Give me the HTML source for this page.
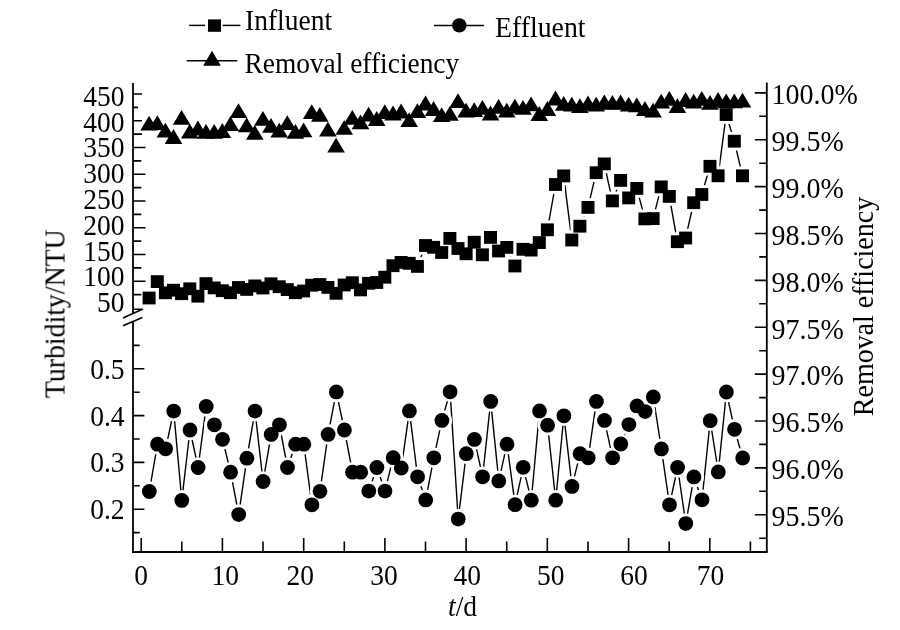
<!DOCTYPE html><html><head><meta charset="utf-8"><style>html,body{margin:0;padding:0;background:#fff;width:900px;height:630px;overflow:hidden}svg{display:block}</style></head><body>
<svg width="900" height="630" viewBox="0 0 900 630" style="font-family:&quot;Liberation Serif&quot;,serif" fill="#000">
<rect width="900" height="630" fill="#fff"/>
<g fill="none" stroke="#000" stroke-width="1.4">
<polyline points="149.1,298 157.3,281.6 165.4,292.8 173.5,290.2 181.6,293.7 189.8,288.8 197.9,296.2 206,283.6 214.2,287.9 222.3,290.7 230.4,292.7 238.5,287.5 246.7,289.4 254.8,285.9 262.9,288 271,283.8 279.2,286.7 287.3,289.6 295.4,292.7 303.6,291 311.7,285.2 319.8,284.5 327.9,287.4 336.1,293.3 344.2,285 352.3,282.7 360.5,289.9 368.6,283.3 376.7,282.5 384.8,277.2 393,265.7 401.1,262.4 409.2,263.3 417.4,266.4 425.5,245.5 433.6,247.3 441.7,252.5 449.9,238.4 458,248.5 466.1,253.8 474.2,242.2 482.4,254.8 490.5,237.4 498.6,251 506.8,247.4 514.9,266 523,249.3 531.1,250.1 539.3,242.6 547.4,229.8 555.5,184.5 563.7,175.9 571.8,240 579.9,226.2 588,207.4 596.2,172.7 604.3,163.9 612.4,200.9 620.6,180.4 628.7,197.9 636.8,188.4 644.9,218.9 653.1,218.6 661.2,186.9 669.3,196.4 677.4,241.7 685.6,238 693.7,202.7 701.8,194.5 710,166.3 718.1,175.8 726.2,114.6 734.3,141.2 742.5,175.8"/>
<polyline points="149.3,491.5 157.5,444.2 165.6,448.8 173.7,411.1 181.8,500.4 190,430 198.1,467.5 206.2,406.4 214.4,424.8 222.5,439.3 230.6,472.2 238.7,514.6 246.9,458.2 255,411.1 263.1,481.5 271.2,434.4 279.4,424.8 287.5,467.5 295.6,444.2 303.8,444.2 311.9,504.8 320,491.3 328.1,434.4 336.3,391.9 344.4,430 352.5,472.2 360.7,472.2 368.8,491.1 376.9,467.5 385,491.1 393.2,457.7 401.3,468 409.4,410.9 417.6,476.8 425.7,499.9 433.8,457.8 441.9,420.4 450.1,391.8 458.2,519.1 466.3,453.7 474.4,439.4 482.6,476.8 490.7,401.4 498.8,480.9 507,444.2 515.1,504.7 523.2,467.3 531.3,500.2 539.5,410.9 547.6,425.2 555.7,500.2 563.9,415.8 572,486.4 580.1,453.7 588.2,457.8 596.4,401.4 604.5,420.4 612.6,457.8 620.8,444 628.9,424.6 637,405.9 645.1,411.6 653.3,396.9 661.4,448.9 669.5,504.8 677.6,467.5 685.8,523.6 693.9,476.9 702,499.8 710.2,420.7 718.3,471.9 726.4,392 734.5,429.3 742.7,458"/>
</g>
<g fill="#fff" stroke="#fff" stroke-width="5.8">
<rect x="142.6" y="291.6" width="13" height="12.8"/>
<rect x="150.8" y="275.2" width="13" height="12.8"/>
<rect x="158.9" y="286.4" width="13" height="12.8"/>
<rect x="167" y="283.8" width="13" height="12.8"/>
<rect x="175.1" y="287.3" width="13" height="12.8"/>
<rect x="183.3" y="282.4" width="13" height="12.8"/>
<rect x="191.4" y="289.8" width="13" height="12.8"/>
<rect x="199.5" y="277.2" width="13" height="12.8"/>
<rect x="207.7" y="281.5" width="13" height="12.8"/>
<rect x="215.8" y="284.3" width="13" height="12.8"/>
<rect x="223.9" y="286.3" width="13" height="12.8"/>
<rect x="232" y="281.1" width="13" height="12.8"/>
<rect x="240.2" y="283" width="13" height="12.8"/>
<rect x="248.3" y="279.5" width="13" height="12.8"/>
<rect x="256.4" y="281.6" width="13" height="12.8"/>
<rect x="264.5" y="277.4" width="13" height="12.8"/>
<rect x="272.7" y="280.3" width="13" height="12.8"/>
<rect x="280.8" y="283.2" width="13" height="12.8"/>
<rect x="288.9" y="286.3" width="13" height="12.8"/>
<rect x="297.1" y="284.6" width="13" height="12.8"/>
<rect x="305.2" y="278.8" width="13" height="12.8"/>
<rect x="313.3" y="278.1" width="13" height="12.8"/>
<rect x="321.4" y="281" width="13" height="12.8"/>
<rect x="329.6" y="286.9" width="13" height="12.8"/>
<rect x="337.7" y="278.6" width="13" height="12.8"/>
<rect x="345.8" y="276.3" width="13" height="12.8"/>
<rect x="354" y="283.5" width="13" height="12.8"/>
<rect x="362.1" y="276.9" width="13" height="12.8"/>
<rect x="370.2" y="276.1" width="13" height="12.8"/>
<rect x="378.3" y="270.8" width="13" height="12.8"/>
<rect x="386.5" y="259.3" width="13" height="12.8"/>
<rect x="394.6" y="256" width="13" height="12.8"/>
<rect x="402.7" y="256.9" width="13" height="12.8"/>
<rect x="410.9" y="260" width="13" height="12.8"/>
<rect x="419" y="239.1" width="13" height="12.8"/>
<rect x="427.1" y="240.9" width="13" height="12.8"/>
<rect x="435.2" y="246.1" width="13" height="12.8"/>
<rect x="443.4" y="232" width="13" height="12.8"/>
<rect x="451.5" y="242.1" width="13" height="12.8"/>
<rect x="459.6" y="247.4" width="13" height="12.8"/>
<rect x="467.7" y="235.8" width="13" height="12.8"/>
<rect x="475.9" y="248.4" width="13" height="12.8"/>
<rect x="484" y="231" width="13" height="12.8"/>
<rect x="492.1" y="244.6" width="13" height="12.8"/>
<rect x="500.3" y="241" width="13" height="12.8"/>
<rect x="508.4" y="259.6" width="13" height="12.8"/>
<rect x="516.5" y="242.9" width="13" height="12.8"/>
<rect x="524.6" y="243.7" width="13" height="12.8"/>
<rect x="532.8" y="236.2" width="13" height="12.8"/>
<rect x="540.9" y="223.4" width="13" height="12.8"/>
<rect x="549" y="178.1" width="13" height="12.8"/>
<rect x="557.2" y="169.5" width="13" height="12.8"/>
<rect x="565.3" y="233.6" width="13" height="12.8"/>
<rect x="573.4" y="219.8" width="13" height="12.8"/>
<rect x="581.5" y="201" width="13" height="12.8"/>
<rect x="589.7" y="166.3" width="13" height="12.8"/>
<rect x="597.8" y="157.5" width="13" height="12.8"/>
<rect x="605.9" y="194.5" width="13" height="12.8"/>
<rect x="614.1" y="174" width="13" height="12.8"/>
<rect x="622.2" y="191.5" width="13" height="12.8"/>
<rect x="630.3" y="182" width="13" height="12.8"/>
<rect x="638.4" y="212.5" width="13" height="12.8"/>
<rect x="646.6" y="212.2" width="13" height="12.8"/>
<rect x="654.7" y="180.5" width="13" height="12.8"/>
<rect x="662.8" y="190" width="13" height="12.8"/>
<rect x="670.9" y="235.3" width="13" height="12.8"/>
<rect x="679.1" y="231.6" width="13" height="12.8"/>
<rect x="687.2" y="196.3" width="13" height="12.8"/>
<rect x="695.3" y="188.1" width="13" height="12.8"/>
<rect x="703.5" y="159.9" width="13" height="12.8"/>
<rect x="711.6" y="169.4" width="13" height="12.8"/>
<rect x="719.7" y="108.2" width="13" height="12.8"/>
<rect x="727.8" y="134.8" width="13" height="12.8"/>
<rect x="736" y="169.4" width="13" height="12.8"/>
<circle cx="149.3" cy="491.5" r="7.4"/>
<circle cx="157.5" cy="444.2" r="7.4"/>
<circle cx="165.6" cy="448.8" r="7.4"/>
<circle cx="173.7" cy="411.1" r="7.4"/>
<circle cx="181.8" cy="500.4" r="7.4"/>
<circle cx="190" cy="430" r="7.4"/>
<circle cx="198.1" cy="467.5" r="7.4"/>
<circle cx="206.2" cy="406.4" r="7.4"/>
<circle cx="214.4" cy="424.8" r="7.4"/>
<circle cx="222.5" cy="439.3" r="7.4"/>
<circle cx="230.6" cy="472.2" r="7.4"/>
<circle cx="238.7" cy="514.6" r="7.4"/>
<circle cx="246.9" cy="458.2" r="7.4"/>
<circle cx="255" cy="411.1" r="7.4"/>
<circle cx="263.1" cy="481.5" r="7.4"/>
<circle cx="271.2" cy="434.4" r="7.4"/>
<circle cx="279.4" cy="424.8" r="7.4"/>
<circle cx="287.5" cy="467.5" r="7.4"/>
<circle cx="295.6" cy="444.2" r="7.4"/>
<circle cx="303.8" cy="444.2" r="7.4"/>
<circle cx="311.9" cy="504.8" r="7.4"/>
<circle cx="320" cy="491.3" r="7.4"/>
<circle cx="328.1" cy="434.4" r="7.4"/>
<circle cx="336.3" cy="391.9" r="7.4"/>
<circle cx="344.4" cy="430" r="7.4"/>
<circle cx="352.5" cy="472.2" r="7.4"/>
<circle cx="360.7" cy="472.2" r="7.4"/>
<circle cx="368.8" cy="491.1" r="7.4"/>
<circle cx="376.9" cy="467.5" r="7.4"/>
<circle cx="385" cy="491.1" r="7.4"/>
<circle cx="393.2" cy="457.7" r="7.4"/>
<circle cx="401.3" cy="468" r="7.4"/>
<circle cx="409.4" cy="410.9" r="7.4"/>
<circle cx="417.6" cy="476.8" r="7.4"/>
<circle cx="425.7" cy="499.9" r="7.4"/>
<circle cx="433.8" cy="457.8" r="7.4"/>
<circle cx="441.9" cy="420.4" r="7.4"/>
<circle cx="450.1" cy="391.8" r="7.4"/>
<circle cx="458.2" cy="519.1" r="7.4"/>
<circle cx="466.3" cy="453.7" r="7.4"/>
<circle cx="474.4" cy="439.4" r="7.4"/>
<circle cx="482.6" cy="476.8" r="7.4"/>
<circle cx="490.7" cy="401.4" r="7.4"/>
<circle cx="498.8" cy="480.9" r="7.4"/>
<circle cx="507" cy="444.2" r="7.4"/>
<circle cx="515.1" cy="504.7" r="7.4"/>
<circle cx="523.2" cy="467.3" r="7.4"/>
<circle cx="531.3" cy="500.2" r="7.4"/>
<circle cx="539.5" cy="410.9" r="7.4"/>
<circle cx="547.6" cy="425.2" r="7.4"/>
<circle cx="555.7" cy="500.2" r="7.4"/>
<circle cx="563.9" cy="415.8" r="7.4"/>
<circle cx="572" cy="486.4" r="7.4"/>
<circle cx="580.1" cy="453.7" r="7.4"/>
<circle cx="588.2" cy="457.8" r="7.4"/>
<circle cx="596.4" cy="401.4" r="7.4"/>
<circle cx="604.5" cy="420.4" r="7.4"/>
<circle cx="612.6" cy="457.8" r="7.4"/>
<circle cx="620.8" cy="444" r="7.4"/>
<circle cx="628.9" cy="424.6" r="7.4"/>
<circle cx="637" cy="405.9" r="7.4"/>
<circle cx="645.1" cy="411.6" r="7.4"/>
<circle cx="653.3" cy="396.9" r="7.4"/>
<circle cx="661.4" cy="448.9" r="7.4"/>
<circle cx="669.5" cy="504.8" r="7.4"/>
<circle cx="677.6" cy="467.5" r="7.4"/>
<circle cx="685.8" cy="523.6" r="7.4"/>
<circle cx="693.9" cy="476.9" r="7.4"/>
<circle cx="702" cy="499.8" r="7.4"/>
<circle cx="710.2" cy="420.7" r="7.4"/>
<circle cx="718.3" cy="471.9" r="7.4"/>
<circle cx="726.4" cy="392" r="7.4"/>
<circle cx="734.5" cy="429.3" r="7.4"/>
<circle cx="742.7" cy="458" r="7.4"/>
<path d="M149.1 115.7L157.9 130.5L140.3 130.5Z"/>
<path d="M157.3 115.3L166.1 130.1L148.5 130.1Z"/>
<path d="M165.4 122.8L174.2 137.6L156.6 137.6Z"/>
<path d="M173.5 129.1L182.3 143.9L164.7 143.9Z"/>
<path d="M181.6 110L190.4 124.8L172.8 124.8Z"/>
<path d="M189.8 123.7L198.6 138.5L181 138.5Z"/>
<path d="M197.9 120.6L206.7 135.4L189.1 135.4Z"/>
<path d="M206 123.9L214.8 138.7L197.2 138.7Z"/>
<path d="M214.2 123.9L223 138.7L205.4 138.7Z"/>
<path d="M222.3 123.1L231.1 137.9L213.5 137.9Z"/>
<path d="M230.4 116.3L239.2 131.1L221.6 131.1Z"/>
<path d="M238.5 103.3L247.3 118.1L229.7 118.1Z"/>
<path d="M246.7 117.4L255.5 132.2L237.9 132.2Z"/>
<path d="M254.8 125L263.6 139.8L246 139.8Z"/>
<path d="M262.9 110.9L271.7 125.7L254.1 125.7Z"/>
<path d="M271 118L279.8 132.8L262.2 132.8Z"/>
<path d="M279.2 122.8L288 137.6L270.4 137.6Z"/>
<path d="M287.3 115.3L296.1 130.1L278.5 130.1Z"/>
<path d="M295.4 123.9L304.2 138.7L286.6 138.7Z"/>
<path d="M303.6 122.4L312.4 137.2L294.8 137.2Z"/>
<path d="M311.7 104.2L320.5 119L302.9 119Z"/>
<path d="M319.8 106.9L328.6 121.7L311 121.7Z"/>
<path d="M327.9 121.7L336.7 136.5L319.1 136.5Z"/>
<path d="M336.1 137.8L344.9 152.6L327.3 152.6Z"/>
<path d="M344.2 120L353 134.8L335.4 134.8Z"/>
<path d="M352.3 110L361.1 124.8L343.5 124.8Z"/>
<path d="M360.5 114.4L369.3 129.2L351.7 129.2Z"/>
<path d="M368.6 106.7L377.4 121.5L359.8 121.5Z"/>
<path d="M376.7 111.1L385.5 125.9L367.9 125.9Z"/>
<path d="M384.8 104.2L393.6 119L376 119Z"/>
<path d="M393 105.6L401.8 120.4L384.2 120.4Z"/>
<path d="M401.1 103.6L409.9 118.4L392.3 118.4Z"/>
<path d="M409.2 112.2L418 127L400.4 127Z"/>
<path d="M417.4 103.3L426.2 118.1L408.6 118.1Z"/>
<path d="M425.5 95.6L434.3 110.4L416.7 110.4Z"/>
<path d="M433.6 101.1L442.4 115.9L424.8 115.9Z"/>
<path d="M441.7 107.2L450.5 122L432.9 122Z"/>
<path d="M449.9 106L458.7 120.8L441.1 120.8Z"/>
<path d="M458 93.3L466.8 108.1L449.2 108.1Z"/>
<path d="M466.1 102.8L474.9 117.6L457.3 117.6Z"/>
<path d="M474.2 102.2L483 117L465.4 117Z"/>
<path d="M482.4 100L491.2 114.8L473.6 114.8Z"/>
<path d="M490.5 105.6L499.3 120.4L481.7 120.4Z"/>
<path d="M498.6 98.9L507.4 113.7L489.8 113.7Z"/>
<path d="M506.8 102.8L515.6 117.6L498 117.6Z"/>
<path d="M514.9 98.7L523.7 113.5L506.1 113.5Z"/>
<path d="M523 100L531.8 114.8L514.2 114.8Z"/>
<path d="M531.1 96.4L539.9 111.2L522.3 111.2Z"/>
<path d="M539.3 106.1L548.1 120.9L530.5 120.9Z"/>
<path d="M547.4 101.1L556.2 115.9L538.6 115.9Z"/>
<path d="M555.5 90.6L564.3 105.4L546.7 105.4Z"/>
<path d="M563.7 95.9L572.5 110.7L554.9 110.7Z"/>
<path d="M571.8 96.7L580.6 111.5L563 111.5Z"/>
<path d="M579.9 98.3L588.7 113.1L571.1 113.1Z"/>
<path d="M588 95.6L596.8 110.4L579.2 110.4Z"/>
<path d="M596.2 96.7L605 111.5L587.4 111.5Z"/>
<path d="M604.3 94.4L613.1 109.2L595.5 109.2Z"/>
<path d="M612.4 95L621.2 109.8L603.6 109.8Z"/>
<path d="M620.6 94.4L629.4 109.2L611.8 109.2Z"/>
<path d="M628.7 96.7L637.5 111.5L619.9 111.5Z"/>
<path d="M636.8 97.5L645.6 112.3L628 112.3Z"/>
<path d="M644.9 101.1L653.7 115.9L636.1 115.9Z"/>
<path d="M653.1 102.7L661.9 117.5L644.3 117.5Z"/>
<path d="M661.2 93.7L670 108.5L652.4 108.5Z"/>
<path d="M669.3 90.9L678.1 105.7L660.5 105.7Z"/>
<path d="M677.4 98.3L686.2 113.1L668.6 113.1Z"/>
<path d="M685.6 92.1L694.4 106.9L676.8 106.9Z"/>
<path d="M693.7 93.7L702.5 108.5L684.9 108.5Z"/>
<path d="M701.8 90.9L710.6 105.7L693 105.7Z"/>
<path d="M710 94.9L718.8 109.7L701.2 109.7Z"/>
<path d="M718.1 92.1L726.9 106.9L709.3 106.9Z"/>
<path d="M726.2 93.4L735 108.2L717.4 108.2Z"/>
<path d="M734.3 93.4L743.1 108.2L725.5 108.2Z"/>
<path d="M742.5 92.7L751.3 107.5L733.7 107.5Z"/>
</g>
<g fill="#000">
<path d="M149.1 115.7L157.9 130.5L140.3 130.5Z"/>
<path d="M157.3 115.3L166.1 130.1L148.5 130.1Z"/>
<path d="M165.4 122.8L174.2 137.6L156.6 137.6Z"/>
<path d="M173.5 129.1L182.3 143.9L164.7 143.9Z"/>
<path d="M181.6 110L190.4 124.8L172.8 124.8Z"/>
<path d="M189.8 123.7L198.6 138.5L181 138.5Z"/>
<path d="M197.9 120.6L206.7 135.4L189.1 135.4Z"/>
<path d="M206 123.9L214.8 138.7L197.2 138.7Z"/>
<path d="M214.2 123.9L223 138.7L205.4 138.7Z"/>
<path d="M222.3 123.1L231.1 137.9L213.5 137.9Z"/>
<path d="M230.4 116.3L239.2 131.1L221.6 131.1Z"/>
<path d="M238.5 103.3L247.3 118.1L229.7 118.1Z"/>
<path d="M246.7 117.4L255.5 132.2L237.9 132.2Z"/>
<path d="M254.8 125L263.6 139.8L246 139.8Z"/>
<path d="M262.9 110.9L271.7 125.7L254.1 125.7Z"/>
<path d="M271 118L279.8 132.8L262.2 132.8Z"/>
<path d="M279.2 122.8L288 137.6L270.4 137.6Z"/>
<path d="M287.3 115.3L296.1 130.1L278.5 130.1Z"/>
<path d="M295.4 123.9L304.2 138.7L286.6 138.7Z"/>
<path d="M303.6 122.4L312.4 137.2L294.8 137.2Z"/>
<path d="M311.7 104.2L320.5 119L302.9 119Z"/>
<path d="M319.8 106.9L328.6 121.7L311 121.7Z"/>
<path d="M327.9 121.7L336.7 136.5L319.1 136.5Z"/>
<path d="M336.1 137.8L344.9 152.6L327.3 152.6Z"/>
<path d="M344.2 120L353 134.8L335.4 134.8Z"/>
<path d="M352.3 110L361.1 124.8L343.5 124.8Z"/>
<path d="M360.5 114.4L369.3 129.2L351.7 129.2Z"/>
<path d="M368.6 106.7L377.4 121.5L359.8 121.5Z"/>
<path d="M376.7 111.1L385.5 125.9L367.9 125.9Z"/>
<path d="M384.8 104.2L393.6 119L376 119Z"/>
<path d="M393 105.6L401.8 120.4L384.2 120.4Z"/>
<path d="M401.1 103.6L409.9 118.4L392.3 118.4Z"/>
<path d="M409.2 112.2L418 127L400.4 127Z"/>
<path d="M417.4 103.3L426.2 118.1L408.6 118.1Z"/>
<path d="M425.5 95.6L434.3 110.4L416.7 110.4Z"/>
<path d="M433.6 101.1L442.4 115.9L424.8 115.9Z"/>
<path d="M441.7 107.2L450.5 122L432.9 122Z"/>
<path d="M449.9 106L458.7 120.8L441.1 120.8Z"/>
<path d="M458 93.3L466.8 108.1L449.2 108.1Z"/>
<path d="M466.1 102.8L474.9 117.6L457.3 117.6Z"/>
<path d="M474.2 102.2L483 117L465.4 117Z"/>
<path d="M482.4 100L491.2 114.8L473.6 114.8Z"/>
<path d="M490.5 105.6L499.3 120.4L481.7 120.4Z"/>
<path d="M498.6 98.9L507.4 113.7L489.8 113.7Z"/>
<path d="M506.8 102.8L515.6 117.6L498 117.6Z"/>
<path d="M514.9 98.7L523.7 113.5L506.1 113.5Z"/>
<path d="M523 100L531.8 114.8L514.2 114.8Z"/>
<path d="M531.1 96.4L539.9 111.2L522.3 111.2Z"/>
<path d="M539.3 106.1L548.1 120.9L530.5 120.9Z"/>
<path d="M547.4 101.1L556.2 115.9L538.6 115.9Z"/>
<path d="M555.5 90.6L564.3 105.4L546.7 105.4Z"/>
<path d="M563.7 95.9L572.5 110.7L554.9 110.7Z"/>
<path d="M571.8 96.7L580.6 111.5L563 111.5Z"/>
<path d="M579.9 98.3L588.7 113.1L571.1 113.1Z"/>
<path d="M588 95.6L596.8 110.4L579.2 110.4Z"/>
<path d="M596.2 96.7L605 111.5L587.4 111.5Z"/>
<path d="M604.3 94.4L613.1 109.2L595.5 109.2Z"/>
<path d="M612.4 95L621.2 109.8L603.6 109.8Z"/>
<path d="M620.6 94.4L629.4 109.2L611.8 109.2Z"/>
<path d="M628.7 96.7L637.5 111.5L619.9 111.5Z"/>
<path d="M636.8 97.5L645.6 112.3L628 112.3Z"/>
<path d="M644.9 101.1L653.7 115.9L636.1 115.9Z"/>
<path d="M653.1 102.7L661.9 117.5L644.3 117.5Z"/>
<path d="M661.2 93.7L670 108.5L652.4 108.5Z"/>
<path d="M669.3 90.9L678.1 105.7L660.5 105.7Z"/>
<path d="M677.4 98.3L686.2 113.1L668.6 113.1Z"/>
<path d="M685.6 92.1L694.4 106.9L676.8 106.9Z"/>
<path d="M693.7 93.7L702.5 108.5L684.9 108.5Z"/>
<path d="M701.8 90.9L710.6 105.7L693 105.7Z"/>
<path d="M710 94.9L718.8 109.7L701.2 109.7Z"/>
<path d="M718.1 92.1L726.9 106.9L709.3 106.9Z"/>
<path d="M726.2 93.4L735 108.2L717.4 108.2Z"/>
<path d="M734.3 93.4L743.1 108.2L725.5 108.2Z"/>
<path d="M742.5 92.7L751.3 107.5L733.7 107.5Z"/>
<rect x="142.6" y="291.6" width="13" height="12.8"/>
<rect x="150.8" y="275.2" width="13" height="12.8"/>
<rect x="158.9" y="286.4" width="13" height="12.8"/>
<rect x="167" y="283.8" width="13" height="12.8"/>
<rect x="175.1" y="287.3" width="13" height="12.8"/>
<rect x="183.3" y="282.4" width="13" height="12.8"/>
<rect x="191.4" y="289.8" width="13" height="12.8"/>
<rect x="199.5" y="277.2" width="13" height="12.8"/>
<rect x="207.7" y="281.5" width="13" height="12.8"/>
<rect x="215.8" y="284.3" width="13" height="12.8"/>
<rect x="223.9" y="286.3" width="13" height="12.8"/>
<rect x="232" y="281.1" width="13" height="12.8"/>
<rect x="240.2" y="283" width="13" height="12.8"/>
<rect x="248.3" y="279.5" width="13" height="12.8"/>
<rect x="256.4" y="281.6" width="13" height="12.8"/>
<rect x="264.5" y="277.4" width="13" height="12.8"/>
<rect x="272.7" y="280.3" width="13" height="12.8"/>
<rect x="280.8" y="283.2" width="13" height="12.8"/>
<rect x="288.9" y="286.3" width="13" height="12.8"/>
<rect x="297.1" y="284.6" width="13" height="12.8"/>
<rect x="305.2" y="278.8" width="13" height="12.8"/>
<rect x="313.3" y="278.1" width="13" height="12.8"/>
<rect x="321.4" y="281" width="13" height="12.8"/>
<rect x="329.6" y="286.9" width="13" height="12.8"/>
<rect x="337.7" y="278.6" width="13" height="12.8"/>
<rect x="345.8" y="276.3" width="13" height="12.8"/>
<rect x="354" y="283.5" width="13" height="12.8"/>
<rect x="362.1" y="276.9" width="13" height="12.8"/>
<rect x="370.2" y="276.1" width="13" height="12.8"/>
<rect x="378.3" y="270.8" width="13" height="12.8"/>
<rect x="386.5" y="259.3" width="13" height="12.8"/>
<rect x="394.6" y="256" width="13" height="12.8"/>
<rect x="402.7" y="256.9" width="13" height="12.8"/>
<rect x="410.9" y="260" width="13" height="12.8"/>
<rect x="419" y="239.1" width="13" height="12.8"/>
<rect x="427.1" y="240.9" width="13" height="12.8"/>
<rect x="435.2" y="246.1" width="13" height="12.8"/>
<rect x="443.4" y="232" width="13" height="12.8"/>
<rect x="451.5" y="242.1" width="13" height="12.8"/>
<rect x="459.6" y="247.4" width="13" height="12.8"/>
<rect x="467.7" y="235.8" width="13" height="12.8"/>
<rect x="475.9" y="248.4" width="13" height="12.8"/>
<rect x="484" y="231" width="13" height="12.8"/>
<rect x="492.1" y="244.6" width="13" height="12.8"/>
<rect x="500.3" y="241" width="13" height="12.8"/>
<rect x="508.4" y="259.6" width="13" height="12.8"/>
<rect x="516.5" y="242.9" width="13" height="12.8"/>
<rect x="524.6" y="243.7" width="13" height="12.8"/>
<rect x="532.8" y="236.2" width="13" height="12.8"/>
<rect x="540.9" y="223.4" width="13" height="12.8"/>
<rect x="549" y="178.1" width="13" height="12.8"/>
<rect x="557.2" y="169.5" width="13" height="12.8"/>
<rect x="565.3" y="233.6" width="13" height="12.8"/>
<rect x="573.4" y="219.8" width="13" height="12.8"/>
<rect x="581.5" y="201" width="13" height="12.8"/>
<rect x="589.7" y="166.3" width="13" height="12.8"/>
<rect x="597.8" y="157.5" width="13" height="12.8"/>
<rect x="605.9" y="194.5" width="13" height="12.8"/>
<rect x="614.1" y="174" width="13" height="12.8"/>
<rect x="622.2" y="191.5" width="13" height="12.8"/>
<rect x="630.3" y="182" width="13" height="12.8"/>
<rect x="638.4" y="212.5" width="13" height="12.8"/>
<rect x="646.6" y="212.2" width="13" height="12.8"/>
<rect x="654.7" y="180.5" width="13" height="12.8"/>
<rect x="662.8" y="190" width="13" height="12.8"/>
<rect x="670.9" y="235.3" width="13" height="12.8"/>
<rect x="679.1" y="231.6" width="13" height="12.8"/>
<rect x="687.2" y="196.3" width="13" height="12.8"/>
<rect x="695.3" y="188.1" width="13" height="12.8"/>
<rect x="703.5" y="159.9" width="13" height="12.8"/>
<rect x="711.6" y="169.4" width="13" height="12.8"/>
<rect x="719.7" y="108.2" width="13" height="12.8"/>
<rect x="727.8" y="134.8" width="13" height="12.8"/>
<rect x="736" y="169.4" width="13" height="12.8"/>
<circle cx="149.3" cy="491.5" r="7.4"/>
<circle cx="157.5" cy="444.2" r="7.4"/>
<circle cx="165.6" cy="448.8" r="7.4"/>
<circle cx="173.7" cy="411.1" r="7.4"/>
<circle cx="181.8" cy="500.4" r="7.4"/>
<circle cx="190" cy="430" r="7.4"/>
<circle cx="198.1" cy="467.5" r="7.4"/>
<circle cx="206.2" cy="406.4" r="7.4"/>
<circle cx="214.4" cy="424.8" r="7.4"/>
<circle cx="222.5" cy="439.3" r="7.4"/>
<circle cx="230.6" cy="472.2" r="7.4"/>
<circle cx="238.7" cy="514.6" r="7.4"/>
<circle cx="246.9" cy="458.2" r="7.4"/>
<circle cx="255" cy="411.1" r="7.4"/>
<circle cx="263.1" cy="481.5" r="7.4"/>
<circle cx="271.2" cy="434.4" r="7.4"/>
<circle cx="279.4" cy="424.8" r="7.4"/>
<circle cx="287.5" cy="467.5" r="7.4"/>
<circle cx="295.6" cy="444.2" r="7.4"/>
<circle cx="303.8" cy="444.2" r="7.4"/>
<circle cx="311.9" cy="504.8" r="7.4"/>
<circle cx="320" cy="491.3" r="7.4"/>
<circle cx="328.1" cy="434.4" r="7.4"/>
<circle cx="336.3" cy="391.9" r="7.4"/>
<circle cx="344.4" cy="430" r="7.4"/>
<circle cx="352.5" cy="472.2" r="7.4"/>
<circle cx="360.7" cy="472.2" r="7.4"/>
<circle cx="368.8" cy="491.1" r="7.4"/>
<circle cx="376.9" cy="467.5" r="7.4"/>
<circle cx="385" cy="491.1" r="7.4"/>
<circle cx="393.2" cy="457.7" r="7.4"/>
<circle cx="401.3" cy="468" r="7.4"/>
<circle cx="409.4" cy="410.9" r="7.4"/>
<circle cx="417.6" cy="476.8" r="7.4"/>
<circle cx="425.7" cy="499.9" r="7.4"/>
<circle cx="433.8" cy="457.8" r="7.4"/>
<circle cx="441.9" cy="420.4" r="7.4"/>
<circle cx="450.1" cy="391.8" r="7.4"/>
<circle cx="458.2" cy="519.1" r="7.4"/>
<circle cx="466.3" cy="453.7" r="7.4"/>
<circle cx="474.4" cy="439.4" r="7.4"/>
<circle cx="482.6" cy="476.8" r="7.4"/>
<circle cx="490.7" cy="401.4" r="7.4"/>
<circle cx="498.8" cy="480.9" r="7.4"/>
<circle cx="507" cy="444.2" r="7.4"/>
<circle cx="515.1" cy="504.7" r="7.4"/>
<circle cx="523.2" cy="467.3" r="7.4"/>
<circle cx="531.3" cy="500.2" r="7.4"/>
<circle cx="539.5" cy="410.9" r="7.4"/>
<circle cx="547.6" cy="425.2" r="7.4"/>
<circle cx="555.7" cy="500.2" r="7.4"/>
<circle cx="563.9" cy="415.8" r="7.4"/>
<circle cx="572" cy="486.4" r="7.4"/>
<circle cx="580.1" cy="453.7" r="7.4"/>
<circle cx="588.2" cy="457.8" r="7.4"/>
<circle cx="596.4" cy="401.4" r="7.4"/>
<circle cx="604.5" cy="420.4" r="7.4"/>
<circle cx="612.6" cy="457.8" r="7.4"/>
<circle cx="620.8" cy="444" r="7.4"/>
<circle cx="628.9" cy="424.6" r="7.4"/>
<circle cx="637" cy="405.9" r="7.4"/>
<circle cx="645.1" cy="411.6" r="7.4"/>
<circle cx="653.3" cy="396.9" r="7.4"/>
<circle cx="661.4" cy="448.9" r="7.4"/>
<circle cx="669.5" cy="504.8" r="7.4"/>
<circle cx="677.6" cy="467.5" r="7.4"/>
<circle cx="685.8" cy="523.6" r="7.4"/>
<circle cx="693.9" cy="476.9" r="7.4"/>
<circle cx="702" cy="499.8" r="7.4"/>
<circle cx="710.2" cy="420.7" r="7.4"/>
<circle cx="718.3" cy="471.9" r="7.4"/>
<circle cx="726.4" cy="392" r="7.4"/>
<circle cx="734.5" cy="429.3" r="7.4"/>
<circle cx="742.7" cy="458" r="7.4"/>
</g>
<g stroke="#000" stroke-width="1.8" fill="none">
<line x1="133" y1="83" x2="133" y2="313.5"/>
<line x1="133" y1="321.5" x2="133" y2="552.9"/>
<line x1="132.1" y1="552" x2="767.6999999999999" y2="552"/>
<line x1="766.8" y1="82.5" x2="766.8" y2="552"/>
</g>
<path d="M133 94h9 M133 120.8h9 M133 147.5h12.5 M133 174.2h12.5 M133 201h12.5 M133 227.8h12.5 M133 254.5h12.5 M133 281.2h12.5 M133 107.4h5 M133 134.1h9 M133 160.9h8.3 M133 187.6h8.3 M133 214.4h8.3 M133 241.1h8.3 M133 267.9h8.3 M133 294.6h8.3 M133 368.8h11.4 M133 415.6h11.4 M133 462.4h11.4 M133 509.2h11.4 M133 345.4h6.7 M133 392.2h6.7 M133 439h6.7 M133 485.8h6.7 M133 532.6h6.7 M766.8 92.9h-12 M766.8 139.8h-12 M766.8 186.6h-12 M766.8 233.5h-12 M766.8 280.4h-12 M766.8 327.2h-12 M766.8 374.1h-12 M766.8 421h-12 M766.8 467.9h-12 M766.8 514.7h-12 M766.8 116.3h-7.6 M766.8 163.2h-7.6 M766.8 210.1h-7.6 M766.8 256.9h-7.6 M766.8 303.8h-7.6 M766.8 350.7h-7.6 M766.8 397.6h-7.6 M766.8 444.4h-7.6 M766.8 491.3h-7.6 M766.8 538.2h-7.6 M141.2 552v-14 M222.4 552v-14 M303.7 552v-14 M384.9 552v-14 M466.1 552v-14 M547.3 552v-14 M628.6 552v-14 M709.8 552v-14 M181.8 552v-10.5 M263 552v-10.5 M344.3 552v-10.5 M425.5 552v-10.5 M506.7 552v-10.5 M588 552v-10.5 M669.2 552v-10.5 M750.4 552v-10.5" stroke="#000" stroke-width="1.6" fill="none"/>
<path d="M133 309.2H142.4L123 318M142.4 317.4L123 325.8" stroke="#000" stroke-width="1.6" fill="none" stroke-linejoin="round"/>
<g opacity="0.999">
<text transform="translate(124.5 105.8) scale(1.0 1.05)" font-size="27.5" text-anchor="end">450</text>
<text transform="translate(124.5 131.6) scale(1.0 1.05)" font-size="27.5" text-anchor="end">400</text>
<text transform="translate(124.5 157.4) scale(1.0 1.05)" font-size="27.5" text-anchor="end">350</text>
<text transform="translate(124.5 183.1) scale(1.0 1.05)" font-size="27.5" text-anchor="end">300</text>
<text transform="translate(124.5 208.9) scale(1.0 1.05)" font-size="27.5" text-anchor="end">250</text>
<text transform="translate(124.5 234.7) scale(1.0 1.05)" font-size="27.5" text-anchor="end">200</text>
<text transform="translate(124.5 260.5) scale(1.0 1.05)" font-size="27.5" text-anchor="end">150</text>
<text transform="translate(124.5 286.3) scale(1.0 1.05)" font-size="27.5" text-anchor="end">100</text>
<text transform="translate(124.5 312) scale(1.0 1.05)" font-size="27.5" text-anchor="end">50</text>
<text transform="translate(124.5 378.8) scale(1.0 1.05)" font-size="27.5" text-anchor="end">0.5</text>
<text transform="translate(124.5 425.6) scale(1.0 1.05)" font-size="27.5" text-anchor="end">0.4</text>
<text transform="translate(124.5 472.4) scale(1.0 1.05)" font-size="27.5" text-anchor="end">0.3</text>
<text transform="translate(124.5 519.2) scale(1.0 1.05)" font-size="27.5" text-anchor="end">0.2</text>
<text transform="translate(771.5 103.8) scale(1.0 1.05)" font-size="28">100.0%</text>
<text transform="translate(771.5 150.7) scale(1.0 1.05)" font-size="28">99.5%</text>
<text transform="translate(771.5 197.7) scale(1.0 1.05)" font-size="28">99.0%</text>
<text transform="translate(771.5 244.6) scale(1.0 1.05)" font-size="28">98.5%</text>
<text transform="translate(771.5 291.6) scale(1.0 1.05)" font-size="28">98.0%</text>
<text transform="translate(771.5 338.5) scale(1.0 1.05)" font-size="28">97.5%</text>
<text transform="translate(771.5 385.4) scale(1.0 1.05)" font-size="28">97.0%</text>
<text transform="translate(771.5 432.4) scale(1.0 1.05)" font-size="28">96.5%</text>
<text transform="translate(771.5 479.3) scale(1.0 1.05)" font-size="28">96.0%</text>
<text transform="translate(771.5 526.3) scale(1.0 1.05)" font-size="28">95.5%</text>
<text transform="translate(141.2 585.3) scale(1.0 1.05)" font-size="27.5" text-anchor="middle">0</text>
<text transform="translate(225.3 585.3) scale(1.0 1.05)" font-size="27.5" text-anchor="middle">10</text>
<text transform="translate(300.3 585.3) scale(1.0 1.05)" font-size="27.5" text-anchor="middle">20</text>
<text transform="translate(384 585.3) scale(1.0 1.05)" font-size="27.5" text-anchor="middle">30</text>
<text transform="translate(467.2 585.3) scale(1.0 1.05)" font-size="27.5" text-anchor="middle">40</text>
<text transform="translate(550.8 585.3) scale(1.0 1.05)" font-size="27.5" text-anchor="middle">50</text>
<text transform="translate(633.9 585.3) scale(1.0 1.05)" font-size="27.5" text-anchor="middle">60</text>
<text transform="translate(710.6 585.3) scale(1.0 1.05)" font-size="27.5" text-anchor="middle">70</text>
<text transform="translate(448 616.5) scale(1 1.05)" font-size="27.5"><tspan font-style="italic">t</tspan>/d</text>
<text transform="translate(64.8 398.2) rotate(-90) scale(1 1.05)" font-size="27.8">Turbidity/NTU</text>
<text transform="translate(873.4 416.2) rotate(-90) scale(1 1.05)" font-size="28">Removal efficiency</text>
<g stroke="#000" stroke-width="1.5">
<line x1="189.2" y1="25.4" x2="205" y2="25.4"/><line x1="222.7" y1="25.4" x2="240.4" y2="25.4"/>
<line x1="433.9" y1="25.4" x2="484.2" y2="25.4"/>
<line x1="186.7" y1="60.7" x2="237.3" y2="60.7"/>
</g>
<rect x="208" y="19.4" width="13" height="12.4"/>
<circle cx="459.3" cy="25.4" r="7.2"/>
<path d="M212 50.8L220.8 65.8L203.2 65.8Z"/>
<text transform="translate(245 29.8) scale(1 1.05)" font-size="27.5">Influent</text>
<text transform="translate(495 36.9) scale(1 1.05)" font-size="27.8">Effluent</text>
<text transform="translate(244.5 73.2) scale(1 1.05)" font-size="27.4">Removal efficiency</text>
</g>
</svg></body></html>
